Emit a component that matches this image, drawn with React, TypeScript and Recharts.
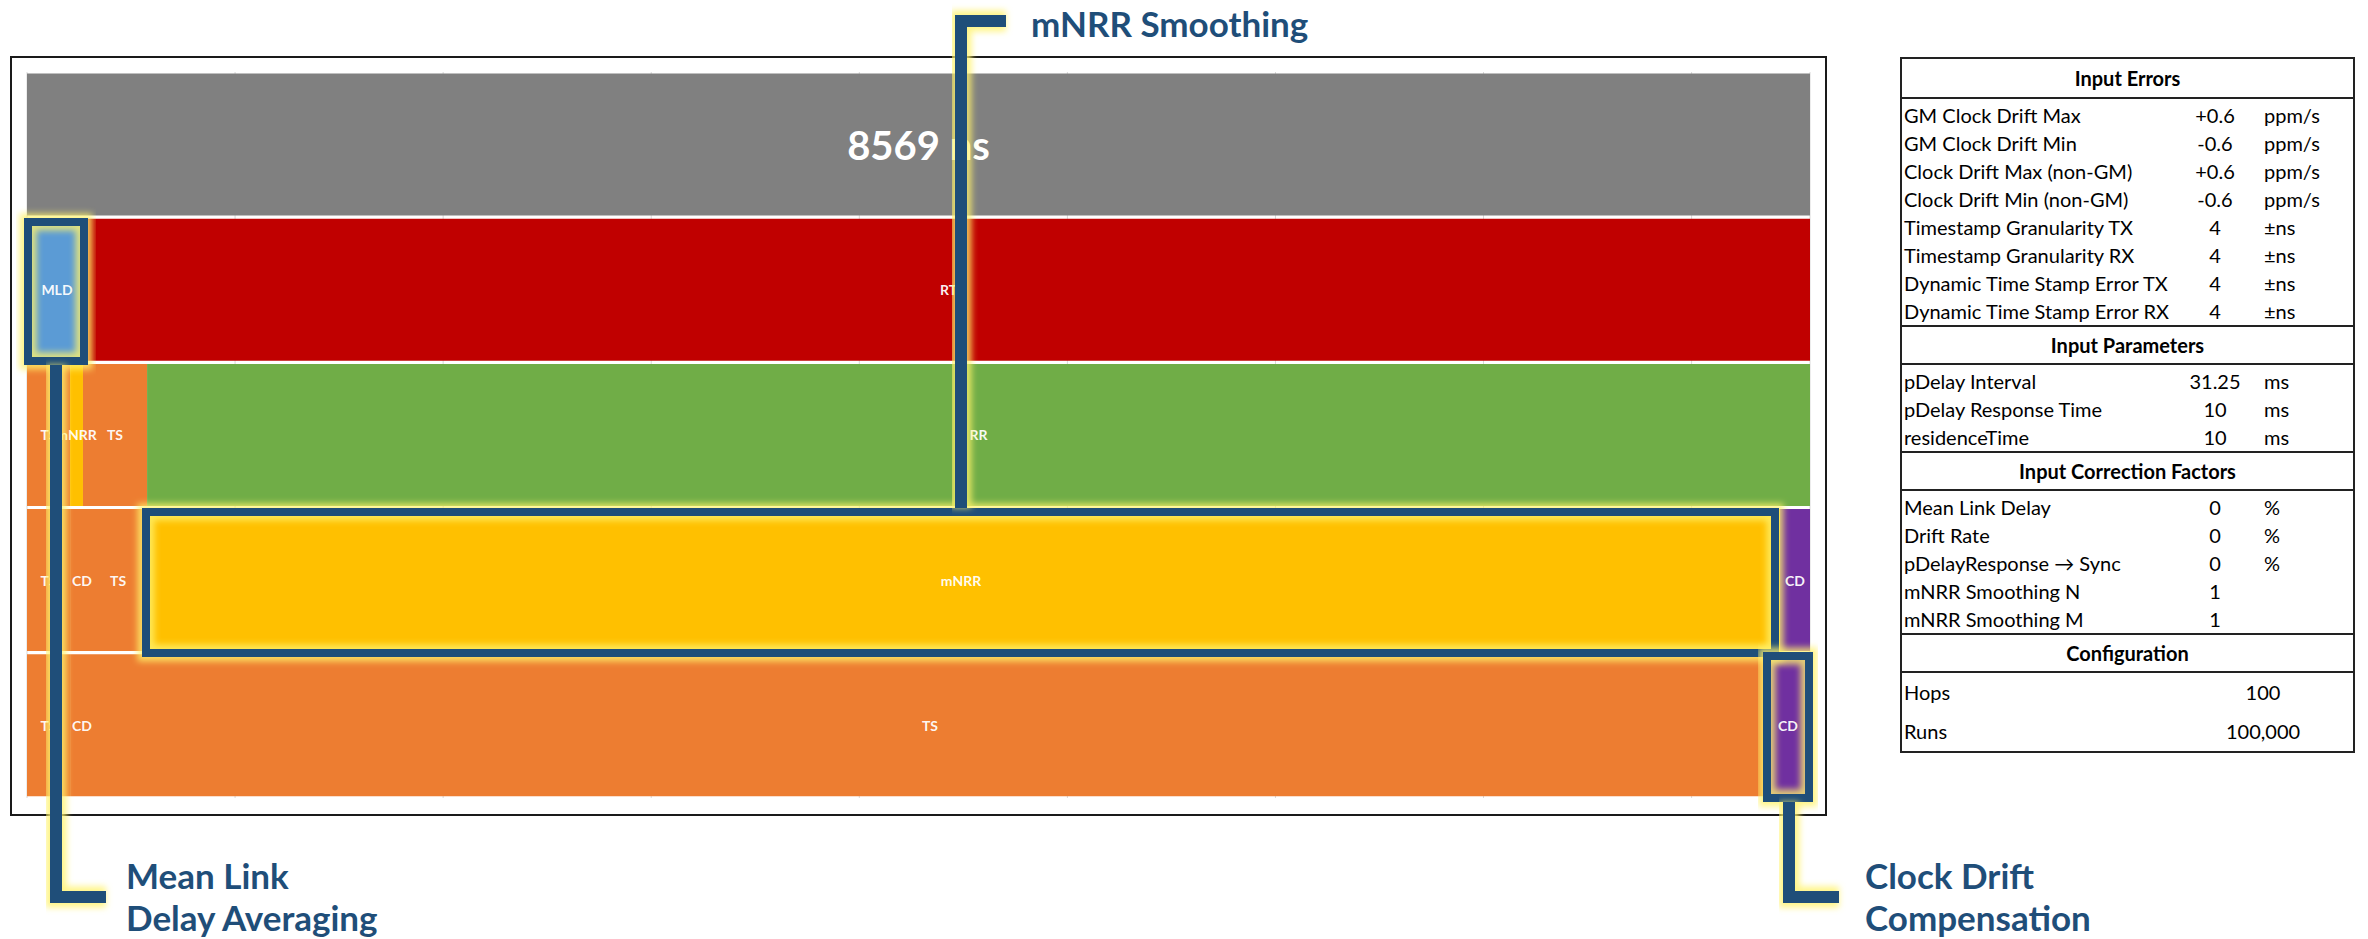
import { Bar, BarChart, CartesianGrid, Cell, LabelList, XAxis, YAxis } from 'recharts'

const categories = ['Total', 'MLD', 'RR', 'mNRR', 'CD']

// segment widths per row, in ns
const totalSegments = [8569]
const mldSegments = [288, 8281]
const rrSegments = [207, 62, 308, 7992]
const mnrrSegments = [207, 115, 231, 7872, 144]
const cdSegments = [207, 115, 8035, 212]

const totalLabels = [`${totalSegments[0]} ns`]
const mldLabels = ['MLD', 'RT']
const rrLabels = ['TS', 'mNRR', 'TS', 'RR']
const mnrrLabels = ['TS', 'CD', 'TS', 'mNRR', 'CD']
const cdLabels = ['TS', 'CD', 'TS', 'CD']

const gridTicks = [0, 1000, 2000, 3000, 4000, 5000, 6000, 7000, 8000]

const inputErrors = [
  ['GM Clock Drift Max', '+0.6', 'ppm/s'],
  ['GM Clock Drift Min', '-0.6', 'ppm/s'],
  ['Clock Drift Max (non-GM)', '+0.6', 'ppm/s'],
  ['Clock Drift Min (non-GM)', '-0.6', 'ppm/s'],
  ['Timestamp Granularity TX', '4', '±ns'],
  ['Timestamp Granularity RX', '4', '±ns'],
  ['Dynamic Time Stamp Error TX', '4', '±ns'],
  ['Dynamic Time Stamp Error RX', '4', '±ns'],
]
const inputParameters = [
  ['pDelay Interval', '31.25', 'ms'],
  ['pDelay Response Time', '10', 'ms'],
  ['residenceTime', '10', 'ms'],
]
const correctionFactors = [
  ['Mean Link Delay', '0', '%'],
  ['Drift Rate', '0', '%'],
  ['pDelayResponse \u2192 Sync', '0', '%'],
  ['mNRR Smoothing N', '1', ''],
  ['mNRR Smoothing M', '1', ''],
]
const configuration = [
  ['Hops', '100'],
  ['Runs', '100,000'],
]

const GRAY = '#808080'
const RED = '#C00000'
const BLUE = '#5B9BD5'
const GREEN = '#70AD47'
const ORANGE = '#ED7D31'
const YELLOW = '#FFC000'
const PURPLE = '#7030A0'
const NAVY = '#1F4E79'
const GLOW = '#FFF26A'
const FONT = 'Lato, "Open Sans", sans-serif'

const ROW_COLORS = [
  [GRAY],
  [BLUE, RED],
  [ORANGE, YELLOW, ORANGE, GREEN],
  [ORANGE, ORANGE, ORANGE, YELLOW, PURPLE],
  [ORANGE, ORANGE, ORANGE, PURPLE],
]

const rowSegments = [totalSegments, mldSegments, rrSegments, mnrrSegments, cdSegments]
const rowLabels = [totalLabels, mldLabels, rrLabels, mnrrLabels, cdLabels]
const maxSegments = Math.max(...rowSegments.map((r) => r.length))
const segmentKeys = Array.from({ length: maxSegments }, (_, i) => i)

const data = categories.map((name, r) => {
  const row: Record<string, string | number> = { name }
  rowSegments[r].forEach((v, i) => {
    row[`s${i}`] = v
    row[`l${i}`] = rowLabels[r][i]
  })
  return row
})

function SegmentLabel(props: any) {
  const { x, y, width, height, value } = props
  if (!value || !width) return null
  const big = value === totalLabels[0]
  return (
    <text
      x={x + width / 2}
      y={y + height / 2}
      fill="#fff"
      fillOpacity={big ? 1 : 0.95}
      fontFamily={FONT}
      fontSize={big ? 40 : 14}
      fontWeight={700}
      textAnchor="middle"
      dominantBaseline="central"
    >
      {value}
    </text>
  )
}

function Callout({ d, w }: { d: string; w: number }) {
  return (
    <g>
      <path d={d} fill="none" stroke={GLOW} strokeWidth={w + 9} strokeOpacity={0.8} filter="url(#glow)" />
      <path d={d} fill="none" stroke={NAVY} strokeWidth={w} strokeLinejoin="miter" />
    </g>
  )
}

const headerStyle = {
  height: 40,
  display: 'flex',
  alignItems: 'center',
  justifyContent: 'center',
  fontWeight: 700,
  borderBottom: '2px solid #222',
  boxSizing: 'border-box' as const,
}

function Section({ title, rows, top }: { title: string; rows: string[][]; top: boolean }) {
  return (
    <div style={{ borderTop: top ? 'none' : '2px solid #222' }}>
      <div style={{ ...headerStyle, height: top ? 40 : 38 }}>{title}</div>
      <div style={{ paddingTop: 2 }}>
        {rows.map((r) => (
          <div key={r[0]} style={{ height: 28, position: 'relative', lineHeight: '28px' }}>
            <span style={{ position: 'absolute', left: 2 }}>{r[0]}</span>
            <span style={{ position: 'absolute', left: 313, width: 0, display: 'flex', justifyContent: 'center' }}>
              <span style={{ whiteSpace: 'nowrap' }}>{r[1]}</span>
            </span>
            <span style={{ position: 'absolute', left: 362 }}>{r[2]}</span>
          </div>
        ))}
      </div>
    </div>
  )
}

export default function App() {
  return (
    <div style={{ position: 'absolute', left: 0, top: 0, width: 2368, height: 939, background: '#fff', overflow: 'hidden' }}>
      <div
        style={{
          position: 'absolute',
          left: 10,
          top: 56,
          width: 1817,
          height: 760,
          border: '2px solid #1a1a1a',
          boxSizing: 'border-box',
        }}
      />
      <div style={{ position: 'absolute', left: 10, top: 56 }}>
        <BarChart
          width={1817}
          height={760}
          data={data}
          layout="vertical"
          barCategoryGap={1.5}
          margin={{ top: 16, right: 17, bottom: 18, left: 17 }}
        >
          <CartesianGrid horizontal={false} stroke="#D9D9D9" />
          <XAxis type="number" domain={[0, totalSegments[0]]} ticks={gridTicks} hide />
          <YAxis type="category" dataKey="name" hide />
          {segmentKeys.map((i) => (
            <Bar key={i} dataKey={`s${i}`} stackId="hops" isAnimationActive={false}>
              {data.map((_, r) => (
                <Cell key={r} fill={ROW_COLORS[r][i] ?? 'transparent'} />
              ))}
              <LabelList dataKey={`l${i}`} content={SegmentLabel} />
            </Bar>
          ))}
        </BarChart>
      </div>

      <div
        style={{
          position: 'absolute',
          left: 1900,
          top: 57,
          width: 455,
          border: '2px solid #222',
          boxSizing: 'border-box',
          fontFamily: FONT,
          fontSize: 20,
          color: '#000',
        }}
      >
        <Section title="Input Errors" rows={inputErrors} top />
        <Section title="Input Parameters" rows={inputParameters} top={false} />
        <Section title="Input Correction Factors" rows={correctionFactors} top={false} />
        <div style={{ borderTop: '2px solid #222' }}>
          <div style={{ ...headerStyle, height: 38 }}>Configuration</div>
          {configuration.map((r) => (
            <div key={r[0]} style={{ height: 39, position: 'relative', lineHeight: '39px' }}>
              <span style={{ position: 'absolute', left: 2 }}>{r[0]}</span>
              <span style={{ position: 'absolute', left: 361, width: 0, display: 'flex', justifyContent: 'center' }}>
                <span style={{ whiteSpace: 'nowrap' }}>{r[1]}</span>
              </span>
            </div>
          ))}
        </div>
      </div>

      <svg width={2368} height={939} style={{ position: 'absolute', left: 0, top: 0, pointerEvents: 'none' }}>
        <defs>
          <filter id="glow" x="-20%" y="-20%" width="140%" height="140%">
            <feGaussianBlur stdDeviation="3" />
          </filter>
        </defs>
        <Callout d="M28 222 H84 V361 H28 Z" w={8} />
        <Callout d="M56 365 V897 H106" w={12} />
        <Callout d="M146 512 H1775 V653 H146 Z" w={8} />
        <Callout d="M961 508 V21 H1006" w={12} />
        <Callout d="M1767 656 H1809 V798 H1767 Z" w={8} />
        <Callout d="M1789 802 V897 H1839" w={12} />
        <g fill={NAVY} fontFamily={FONT} fontWeight={700} fontSize={35}>
          <text x={1031} y={23} dominantBaseline="central">mNRR Smoothing</text>
          <text x={126} y={875} dominantBaseline="central">Mean Link</text>
          <text x={126} y={917} dominantBaseline="central">Delay Averaging</text>
          <text x={1865} y={875} dominantBaseline="central">Clock Drift</text>
          <text x={1865} y={917} dominantBaseline="central">Compensation</text>
        </g>
      </svg>
    </div>
  )
}
